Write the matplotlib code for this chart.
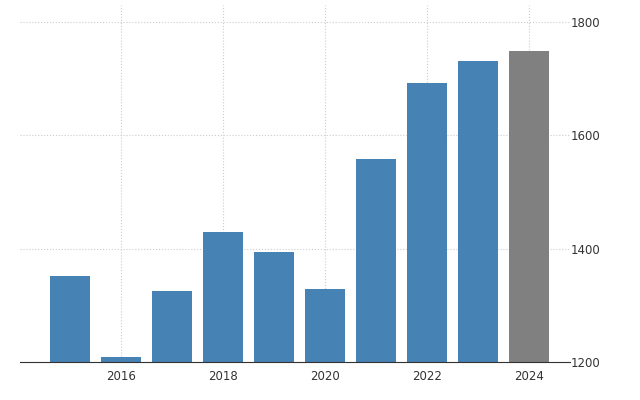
import matplotlib
matplotlib.use("Agg")
import matplotlib.pyplot as plt

years = [2015, 2016, 2017, 2018, 2019, 2020, 2021, 2022, 2023, 2024]
values = [1352, 1209, 1325, 1429, 1394, 1329, 1558, 1692, 1731, 1749]
colors = ['#4682b4'] * 9 + ['#808080']
xticks = [2016, 2018, 2020, 2022, 2024]
yticks = [1200, 1400, 1600, 1800]

fig = plt.figure(figsize=(6.4, 4.0), dpi=100)
ax = fig.add_axes([0.031, 0.095, 0.859, 0.8925])
ax.bar(years, values, width=0.78, color=colors, zorder=2)

ax.set_xlim(2014.02, 2024.8)
ax.set_ylim(1200, 1830)
ax.set_xticks(xticks)
ax.set_yticks(yticks)
ax.yaxis.tick_right()
ax.tick_params(axis='both', length=0, labelsize=8.5, colors='#333333')
ax.tick_params(axis='x', pad=6)
ax.tick_params(axis='y', pad=22)
for lab in ax.get_yticklabels():
    lab.set_horizontalalignment('right')

ax.grid(True, linestyle=':', color='#cccccc', lw=0.8, zorder=0)
for s in ['top', 'right', 'left']:
    ax.spines[s].set_visible(False)
ax.spines['bottom'].set_color('#333333')

fig.savefig('out.png', dpi=100)
